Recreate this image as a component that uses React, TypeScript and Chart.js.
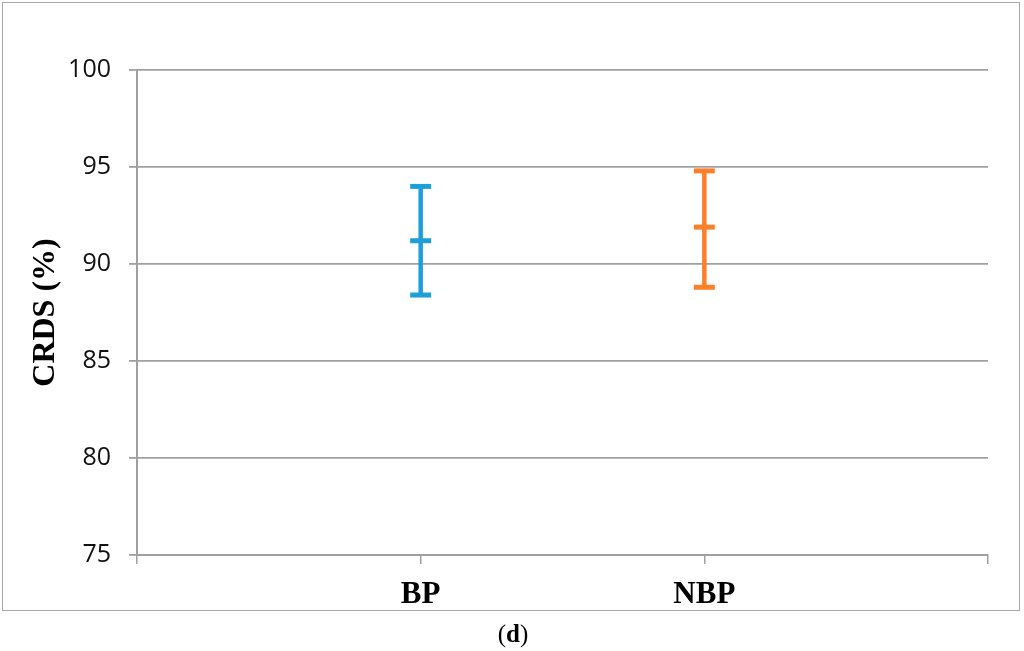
import React, { useEffect, useRef } from "react";
import { Chart, registerables } from "chart.js";

Chart.register(...registerables);

const categories = ["BP", "NBP"];
const meanValues = [91.2, 91.9];
const highValues = [94.0, 94.8];
const lowValues = [88.4, 88.8];
const seriesColors = ["#1f9fda", "#fe7f29"];
const yTicks = [75, 80, 85, 90, 95, 100];

export default function App() {
  const ref = useRef<HTMLCanvasElement | null>(null);

  useEffect(() => {
    if (!ref.current) return;
    const stems = categories.map((c, i) => ({
      label: c + " range",
      data: [
        { x: i + 1, y: lowValues[i] },
        { x: i + 1, y: highValues[i] },
      ],
      showLine: true,
      borderColor: seriesColors[i],
      backgroundColor: seriesColors[i],
      borderWidth: 4.5,
      pointRadius: 0,
    }));
    const caps = categories.map((c, i) => ({
      label: c,
      data: [
        { x: i + 1, y: lowValues[i] },
        { x: i + 1, y: meanValues[i] },
        { x: i + 1, y: highValues[i] },
      ],
      showLine: false,
      pointStyle: "line",
      pointRadius: 10.5,
      pointBorderWidth: 5,
      pointBorderColor: seriesColors[i],
      pointBackgroundColor: seriesColors[i],
      borderWidth: 5,
      borderColor: seriesColors[i],
      backgroundColor: seriesColors[i],
    }));
    const chart = new Chart(ref.current, {
      type: "scatter",
      data: { datasets: [...stems, ...caps] as any },
      options: {
        animation: false,
        responsive: false,
        layout: { padding: { left: 0, top: 70, right: 36, bottom: 0 } },
        plugins: { legend: { display: false }, tooltip: { enabled: false } },
        scales: {
          x: {
            type: "linear",
            min: 0,
            max: categories.length + 1,
            afterFit: (s: any) => {
              s.height = 96;
            },
            afterBuildTicks: (s: any) => {
              s.ticks = Array.from({ length: categories.length + 2 }, (_, k) => ({ value: k }));
            },
            ticks: {
              autoSkip: false,
              maxRotation: 0,
              padding: 12,
              color: "#000",
              font: { family: "Liberation Serif", size: 31, weight: "bold" },
              callback: (v: any) => categories[Number(v) - 1] ?? "",
            },
            grid: {
              drawOnChartArea: false,
              drawTicks: true,
              tickLength: 9,
              color: "#a0a0a0",
              lineWidth: 1.5,
            },
            border: { display: true, color: "#a0a0a0", width: 2 },
          },
          y: {
            type: "linear",
            min: 75,
            max: 100,
            afterFit: (s: any) => {
              s.width = 137;
            },
            afterBuildTicks: (s: any) => {
              s.ticks = yTicks.map((v) => ({ value: v }));
            },
            ticks: {
              padding: 18,
              color: "#111",
              font: { family: "Open Sans", size: 25 },
            },
            grid: {
              drawTicks: true,
              tickLength: 8,
              color: "#a0a0a0",
              lineWidth: 1.8,
            },
            border: { display: true, color: "#a0a0a0", width: 2 },
            title: {
              display: true,
              text: "CRDS (%)",
              color: "#000",
              font: { family: "Liberation Serif", size: 32, weight: "bold", lineHeight: 1.2 },
              padding: { top: 27, bottom: 0 },
            },
          },
        },
      } as any,
    });
    return () => chart.destroy();
  }, []);

  return (
    <div style={{ position: "absolute", left: 0, top: 0, width: 1024, height: 651, background: "#fff" }}>
      <div
        style={{
          position: "absolute",
          left: 2,
          top: 2,
          width: 1016,
          height: 607,
          border: "1.5px solid #a8a8a8",
        }}
      />
      <canvas ref={ref} width={1024} height={651} style={{ position: "absolute", left: 0, top: 0 }} />
      <div
        style={{
          position: "absolute",
          left: 0,
          width: 1026,
          top: 619,
          textAlign: "center",
          fontFamily: "Liberation Serif",
          fontSize: 25,
          lineHeight: "30px",
          color: "#000",
        }}
      >
        (<b>d</b>)
      </div>
    </div>
  );
}
